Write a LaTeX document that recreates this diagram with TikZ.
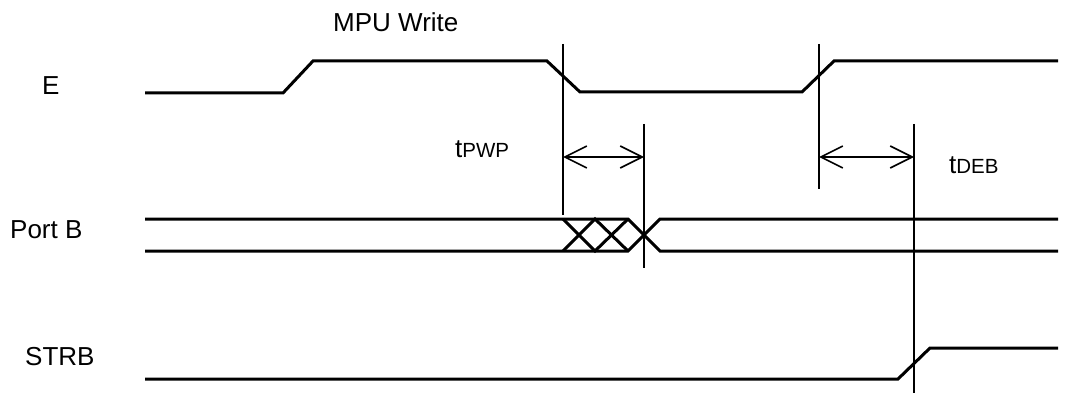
\documentclass[tikz,border=0pt]{standalone}
\usepackage{fontspec}
\setmainfont{Liberation Sans}
\usetikzlibrary{arrows.meta}
\newcommand\mysubsz{\fontsize{20.5}{22}\selectfont}
\begin{document}
\begin{tikzpicture}[x=1pt,y=-1pt,
  sig/.style={line width=3pt,line join=miter},
  mark line/.style={line width=1.8pt},
  dim/.style={line width=1.6pt,{Straight Barb[length=22pt,width=22pt]}-{Straight Barb[length=22pt,width=22pt]}},
  lbl/.style={inner sep=0pt,anchor=base west,font=\fontsize{26}{29}\selectfont}]
\useasboundingbox (0,0) rectangle (1069,393);
% labels
\node[lbl] (lE) at (42,95) {E};
\node[lbl] (lB) at (10,238) {Port B};
\node[lbl] (lS) at (25,365) {STRB};
\node[lbl] (lM) at (333,32) {MPU Write};
\node[lbl] (lP) at (455,158) {t{\mysubsz PWP}};
\node[lbl] (lD) at (949,174) {t{\mysubsz DEB}};
% E signal
\draw[sig] (145,93) -- (283,93) -- (313,61) -- (547,61) -- (580,92) -- (802,92) -- (834,61) -- (1058,61);
% Port B
\draw[sig] (145,219) -- (628,219) -- (660,251) -- (1058,251);
\draw[sig] (145,251) -- (628,251) -- (660,219) -- (1058,219);
\draw[sig] (563,219) -- (595,251) -- (628,219);
\draw[sig] (563,251) -- (595,219) -- (628,251);
% STRB
\draw[sig] (145,379) -- (898,379) -- (930,348) -- (1058,348);
% timing markers
\coordinate (v1t) at (563,44); \coordinate (v1b) at (563,215);
\coordinate (v2t) at (644,124); \coordinate (v2b) at (644,268);
\coordinate (v3t) at (819,44); \coordinate (v3b) at (819,189);
\coordinate (v4t) at (914,124); \coordinate (v4b) at (914,393);
\draw[mark line] (v1t) -- (v1b);
\draw[mark line] (v2t) -- (v2b);
\draw[mark line] (v3t) -- (v3b);
\draw[mark line] (v4t) -- (v4b);
\coordinate (a1) at (563,157); \coordinate (a2) at (644,157);
\coordinate (a3) at (819,157); \coordinate (a4) at (914,157);
\draw[dim] (a1) -- (a2);
\draw[dim] (a3) -- (a4);
\end{tikzpicture}
\end{document}
